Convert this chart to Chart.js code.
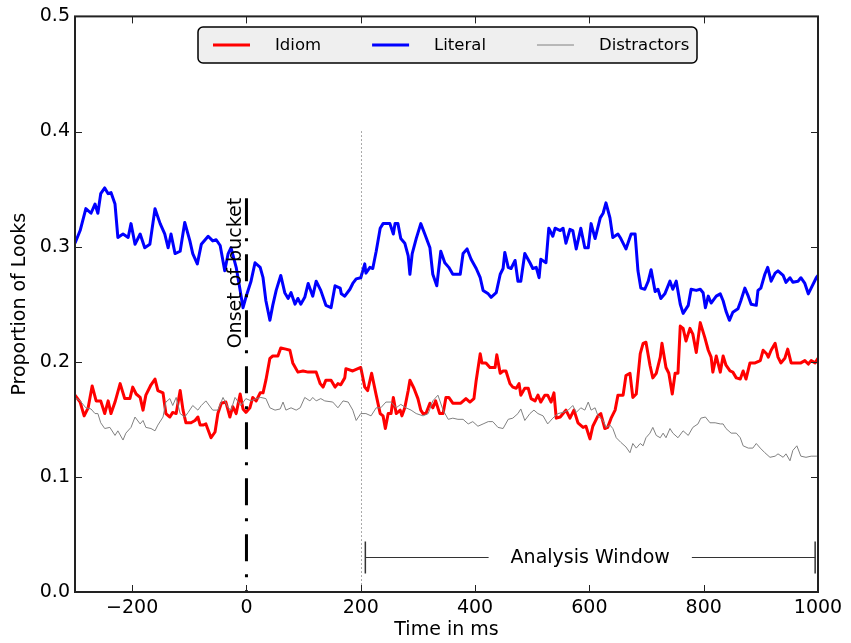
<!DOCTYPE html>
<html><head><meta charset="utf-8">
<script src="https://cdn.jsdelivr.net/npm/chart.js@4/dist/chart.umd.min.js"></script>
<style>html,body{margin:0;padding:0;background:#fff}</style>
</head><body>
<canvas id="c" width="851" height="643"></canvas>
<script>
const xTicks = [-200,0,200,400,600,800,1000];
const yTicks = [0,0.1,0.2,0.3,0.4,0.5];

const idiomTime = [-300,-291,-284,-277,-270,-263,-255,-248,-242,-237,-230,-221,-213,-204,-199,-193,-186,-181,-176,-167,-160,-155,-146,-141,-134,-129,-123,-116,-111,-106,-97,-90,-85,-81,-76,-71,-62,-55,-50,-44,-36,-29,-24,-18,-11,-6,-1,6,11,17,24,29,34,41,46,55,60,69,76,81,90,99,108,116,122,129,134,139,148,155,160,165,172,174,186,195,200,207,212,219,227,234,239,243,248,253,257,262,269,272,277,283,286,293,300,305,309,314,321,326,331,338,344,349,354,361,375,384,391,398,402,409,412,419,426,435,438,444,449,454,461,466,472,477,480,487,493,498,505,510,515,522,527,533,538,542,549,554,559,566,573,580,589,594,601,606,615,620,627,632,638,645,650,659,664,671,676,682,689,694,699,706,711,717,724,727,734,739,745,750,755,759,764,769,776,781,787,794,802,808,813,816,822,829,834,839,846,851,857,864,869,874,881,890,899,904,910,913,918,925,930,935,942,947,953,962,970,977,983,988,995,1000];
const idiomValue = [0.171,0.165,0.153,0.160,0.179,0.166,0.166,0.155,0.166,0.155,0.165,0.181,0.168,0.168,0.178,0.172,0.169,0.158,0.171,0.180,0.185,0.175,0.173,0.155,0.152,0.156,0.155,0.175,0.158,0.147,0.147,0.149,0.152,0.145,0.145,0.146,0.134,0.139,0.155,0.164,0.165,0.152,0.161,0.155,0.172,0.159,0.156,0.160,0.169,0.166,0.173,0.173,0.184,0.203,0.205,0.205,0.212,0.211,0.210,0.199,0.191,0.192,0.191,0.191,0.191,0.181,0.178,0.184,0.184,0.178,0.181,0.180,0.186,0.194,0.192,0.194,0.195,0.178,0.175,0.190,0.171,0.155,0.153,0.142,0.155,0.155,0.169,0.155,0.158,0.153,0.160,0.175,0.184,0.177,0.168,0.158,0.155,0.155,0.164,0.160,0.166,0.155,0.155,0.169,0.169,0.164,0.164,0.168,0.165,0.168,0.184,0.207,0.199,0.199,0.195,0.195,0.206,0.190,0.192,0.192,0.181,0.178,0.177,0.181,0.171,0.177,0.177,0.168,0.166,0.171,0.165,0.171,0.171,0.165,0.173,0.151,0.152,0.155,0.158,0.151,0.158,0.147,0.143,0.144,0.133,0.144,0.153,0.155,0.142,0.143,0.151,0.158,0.171,0.171,0.188,0.190,0.169,0.172,0.207,0.216,0.217,0.197,0.186,0.190,0.204,0.216,0.195,0.190,0.172,0.190,0.190,0.231,0.229,0.218,0.229,0.224,0.208,0.234,0.221,0.210,0.204,0.191,0.205,0.191,0.205,0.197,0.192,0.191,0.186,0.185,0.192,0.185,0.199,0.199,0.201,0.210,0.207,0.204,0.210,0.216,0.204,0.199,0.203,0.211,0.199,0.199,0.199,0.201,0.198,0.201,0.199,0.203];

const literalTime = [-300,-291,-281,-272,-265,-260,-255,-248,-242,-237,-230,-225,-216,-207,-202,-195,-186,-178,-169,-160,-151,-143,-137,-132,-125,-116,-108,-99,-94,-86,-79,-67,-59,-53,-46,-38,-32,-27,-18,-11,-6,-1,8,15,24,29,34,41,46,52,60,67,73,78,85,90,95,102,108,116,122,130,139,148,155,164,166,172,181,186,192,200,207,209,216,221,227,234,239,251,257,260,265,270,277,283,286,290,297,305,312,321,326,333,340,347,354,361,374,379,386,393,402,409,414,423,428,437,444,449,452,458,463,470,475,480,487,496,501,507,512,515,524,529,536,540,549,554,559,566,571,577,585,592,598,603,610,619,624,629,636,641,650,655,664,673,680,685,690,697,703,708,715,720,725,732,741,746,752,759,764,773,778,787,794,799,803,808,813,822,829,834,839,845,851,860,865,872,878,883,892,895,900,907,912,918,925,930,939,944,951,956,965,970,977,983,988,997,1000];
const literalValue = [0.303,0.314,0.333,0.329,0.337,0.329,0.346,0.351,0.346,0.347,0.337,0.308,0.311,0.308,0.320,0.302,0.311,0.299,0.302,0.333,0.320,0.311,0.299,0.311,0.294,0.296,0.321,0.305,0.294,0.285,0.302,0.309,0.305,0.306,0.301,0.279,0.294,0.299,0.282,0.262,0.247,0.256,0.270,0.286,0.282,0.273,0.253,0.236,0.249,0.262,0.275,0.260,0.255,0.260,0.250,0.255,0.250,0.256,0.268,0.257,0.270,0.262,0.249,0.247,0.266,0.264,0.259,0.257,0.263,0.268,0.272,0.273,0.285,0.277,0.282,0.281,0.296,0.316,0.320,0.320,0.311,0.320,0.320,0.307,0.303,0.292,0.276,0.294,0.307,0.320,0.311,0.299,0.276,0.266,0.296,0.286,0.282,0.276,0.276,0.294,0.298,0.289,0.281,0.273,0.262,0.259,0.256,0.260,0.276,0.281,0.295,0.282,0.281,0.288,0.270,0.270,0.294,0.286,0.281,0.282,0.273,0.289,0.286,0.316,0.309,0.316,0.314,0.316,0.303,0.315,0.314,0.298,0.316,0.299,0.299,0.320,0.307,0.325,0.329,0.338,0.325,0.308,0.311,0.307,0.298,0.311,0.311,0.279,0.264,0.263,0.270,0.280,0.261,0.263,0.255,0.259,0.270,0.263,0.270,0.250,0.242,0.249,0.263,0.262,0.263,0.260,0.247,0.257,0.251,0.257,0.259,0.253,0.244,0.236,0.243,0.246,0.253,0.264,0.257,0.250,0.249,0.262,0.264,0.276,0.282,0.270,0.277,0.279,0.275,0.269,0.273,0.269,0.270,0.273,0.268,0.259,0.264,0.273,0.275];

const distractorTime = [-300,-291,-281,-272,-265,-260,-255,-248,-239,-230,-225,-216,-211,-202,-195,-186,-181,-176,-167,-160,-155,-146,-141,-134,-129,-123,-116,-108,-102,-94,-85,-79,-71,-59,-50,-41,-32,-27,-20,-10,-1,8,17,25,34,41,50,59,64,69,78,87,94,102,111,116,122,130,137,151,160,169,178,186,192,200,209,218,227,235,244,253,262,270,279,288,297,309,318,326,335,344,353,361,370,379,388,396,405,414,423,431,440,449,458,466,475,480,487,496,503,510,519,527,536,545,554,563,571,577,585,592,598,603,610,615,624,629,636,641,647,655,664,671,676,682,689,694,699,706,711,717,724,729,734,741,746,755,764,773,781,790,795,803,811,820,829,834,839,848,857,864,869,878,886,892,899,907,916,925,930,939,944,951,956,963,970,979,988,997,1000];
const distractorValue = [0.169,0.166,0.160,0.159,0.155,0.155,0.147,0.142,0.143,0.136,0.140,0.132,0.138,0.143,0.152,0.146,0.149,0.143,0.142,0.140,0.145,0.152,0.165,0.168,0.162,0.169,0.155,0.152,0.156,0.162,0.158,0.162,0.166,0.158,0.158,0.169,0.160,0.158,0.169,0.162,0.168,0.166,0.168,0.169,0.168,0.160,0.158,0.159,0.165,0.158,0.160,0.158,0.160,0.169,0.166,0.169,0.166,0.168,0.166,0.165,0.160,0.166,0.165,0.158,0.149,0.155,0.155,0.153,0.160,0.160,0.165,0.165,0.160,0.163,0.160,0.158,0.155,0.153,0.155,0.166,0.171,0.158,0.150,0.151,0.150,0.150,0.146,0.148,0.144,0.146,0.148,0.148,0.143,0.142,0.150,0.151,0.155,0.159,0.149,0.155,0.158,0.155,0.153,0.146,0.151,0.155,0.156,0.158,0.162,0.156,0.160,0.158,0.165,0.158,0.160,0.153,0.149,0.143,0.145,0.142,0.134,0.130,0.126,0.121,0.129,0.125,0.129,0.127,0.134,0.138,0.143,0.136,0.134,0.138,0.134,0.142,0.138,0.134,0.140,0.136,0.143,0.146,0.151,0.152,0.147,0.147,0.146,0.146,0.142,0.138,0.138,0.134,0.127,0.125,0.125,0.129,0.125,0.121,0.117,0.118,0.120,0.117,0.120,0.114,0.123,0.127,0.118,0.117,0.118,0.118,0.118];

// annotations (data coordinates)
const onsetX = 0, onsetTop = 0.342;
const onsetLabel = 'Onset of bucket', onsetLabelX = -18, onsetLabelY = 0.277;
const windowMarkX = 200, windowMarkTop = 0.4;
const windowStart = 208, windowEnd = 995, windowY = 0.03;
const windowLabel = 'Analysis Window';
const xTitle = 'Time in ms', yTitle = 'Proportion of Looks';

const FONT = '"DejaVu Sans", Verdana, sans-serif';
const pts = (t, v) => t.map((x, i) => ({x, y: v[i]}));

const overlay = {
  id: 'overlay',
  afterDatasetsDraw(chart) {
    const {ctx, chartArea: a, scales: {x, y}} = chart;
    const line = (x1, y1, x2, y2) => { ctx.beginPath(); ctx.moveTo(x1, y1); ctx.lineTo(x2, y2); ctx.stroke(); };
    ctx.save();
    // dotted line at analysis start
    ctx.strokeStyle = '#555'; ctx.lineWidth = 1; ctx.setLineDash([1, 3]);
    const xd = Math.round(x.getPixelForValue(windowMarkX)) + 0.5;
    line(xd, y.getPixelForValue(windowMarkTop), xd, a.bottom);
    // onset dash-dot
    ctx.strokeStyle = '#000'; ctx.lineWidth = 3; ctx.setLineDash([27, 13, 3, 13]);
    const xo = x.getPixelForValue(onsetX);
    line(xo, y.getPixelForValue(onsetTop), xo, a.bottom);
    ctx.setLineDash([]);
    // onset label
    ctx.save();
    ctx.translate(x.getPixelForValue(onsetLabelX), y.getPixelForValue(onsetLabelY));
    ctx.rotate(-Math.PI / 2);
    ctx.fillStyle = '#000'; ctx.font = '19px ' + FONT; ctx.textAlign = 'center'; ctx.textBaseline = 'middle';
    ctx.fillText(onsetLabel, 0, 0);
    ctx.restore();
    // analysis window
    const wx1 = x.getPixelForValue(windowStart), wx2 = x.getPixelForValue(windowEnd);
    const wy = Math.round(y.getPixelForValue(windowY)) + 0.5;
    const wc = (wx1 + wx2) / 2;
    ctx.font = '19px ' + FONT;
    const tw = ctx.measureText(windowLabel).width;
    ctx.strokeStyle = '#333'; ctx.lineWidth = 1;
    line(wx1, wy, wc - tw / 2 - 22, wy);
    line(wc + tw / 2 + 22, wy, wx2, wy);
    ctx.lineWidth = 1.5;
    line(wx1, wy - 16, wx1, wy + 16);
    line(wx2, wy - 16, wx2, wy + 16);
    ctx.fillStyle = '#000'; ctx.textAlign = 'center'; ctx.textBaseline = 'middle';
    ctx.fillText(windowLabel, wc, wy + 1);
    // frame
    ctx.strokeStyle = '#222'; ctx.lineWidth = 2;
    ctx.strokeRect(a.left, a.top, a.right - a.left, a.bottom - a.top);
    // inward ticks
    ctx.lineWidth = 1; ctx.strokeStyle = '#222';
    xTicks.forEach(v => {
      const px = Math.round(x.getPixelForValue(v)) + 0.5;
      line(px, a.bottom, px, a.bottom - 7);
      line(px, a.top, px, a.top + 7);
    });
    yTicks.forEach(v => {
      const py = Math.round(y.getPixelForValue(v)) + 0.5;
      line(a.left, py, a.left + 7, py);
      line(a.right, py, a.right - 7, py);
    });
    // axis titles
    ctx.fillStyle = '#000'; ctx.font = '19px ' + FONT; ctx.textAlign = 'center'; ctx.textBaseline = 'middle';
    ctx.fillText(xTitle, (a.left + a.right) / 2, 630);
    ctx.save();
    ctx.translate(20, (a.top + a.bottom) / 2);
    ctx.rotate(-Math.PI / 2);
    ctx.fillText(yTitle, 0, 0);
    ctx.restore();
    // legend
    const bx = 198, by = 27, bw = 499, bh = 36, r = 5;
    ctx.beginPath();
    ctx.moveTo(bx + r, by); ctx.lineTo(bx + bw - r, by); ctx.arcTo(bx + bw, by, bx + bw, by + r, r);
    ctx.lineTo(bx + bw, by + bh - r); ctx.arcTo(bx + bw, by + bh, bx + bw - r, by + bh, r);
    ctx.lineTo(bx + r, by + bh); ctx.arcTo(bx, by + bh, bx, by + bh - r, r);
    ctx.lineTo(bx, by + r); ctx.arcTo(bx, by, bx + r, by, r); ctx.closePath();
    ctx.fillStyle = '#efefef'; ctx.fill();
    ctx.strokeStyle = '#000'; ctx.lineWidth = 1.5; ctx.stroke();
    ctx.font = '16.5px ' + FONT; ctx.textAlign = 'left'; ctx.textBaseline = 'middle';
    let lx = bx + 15;
    const ly = by + bh / 2;
    chart.data.datasets.forEach(ds => {
      ctx.strokeStyle = ds.borderColor; ctx.lineWidth = ds.borderWidth;
      line(lx, ly, lx + 37, ly);
      ctx.fillStyle = '#000';
      ctx.fillText(ds.label, lx + 62, ly + 1);
      lx += 62 + ctx.measureText(ds.label).width + 51;
    });
    ctx.restore();
  }
};

new Chart(document.getElementById('c'), {
  type: 'line',
  data: {
    datasets: [
      {label: 'Idiom', data: pts(idiomTime, idiomValue), borderColor: '#ff0000', borderWidth: 3, order: 2},
      {label: 'Literal', data: pts(literalTime, literalValue), borderColor: '#0000ff', borderWidth: 3, order: 3},
      {label: 'Distractors', data: pts(distractorTime, distractorValue), borderColor: '#808080', borderWidth: 1, order: 1}
    ]
  },
  options: {
    responsive: false, animation: false, devicePixelRatio: 1,
    layout: {padding: {left: 0, top: 15, right: 33, bottom: 0}},
    plugins: {legend: {display: false}, tooltip: {enabled: false}},
    elements: {point: {radius: 0}, line: {tension: 0, borderJoinStyle: 'round', fill: false}},
    scales: {
      x: {
        type: 'linear', min: -300, max: 1000,
        grid: {display: false, drawTicks: false}, border: {display: false},
        afterBuildTicks: s => { s.ticks = xTicks.map(v => ({value: v})); },
        afterFit: s => { s.height = 51; },
        ticks: {font: {family: FONT, size: 19}, color: '#000', padding: 5, maxRotation: 0, autoSkip: false,
          callback: v => v < 0 ? '\u2212' + Math.abs(v) : String(v)}
      },
      y: {
        type: 'linear', min: 0, max: 0.5,
        grid: {display: false, drawTicks: false}, border: {display: false},
        afterBuildTicks: s => { s.ticks = yTicks.map(v => ({value: v})); },
        afterFit: s => { s.width = 75; },
        ticks: {font: {family: FONT, size: 19}, color: '#000', padding: 5,
          callback: v => Number(v).toFixed(1)}
      }
    }
  },
  plugins: [overlay]
});
</script>
</body></html>
